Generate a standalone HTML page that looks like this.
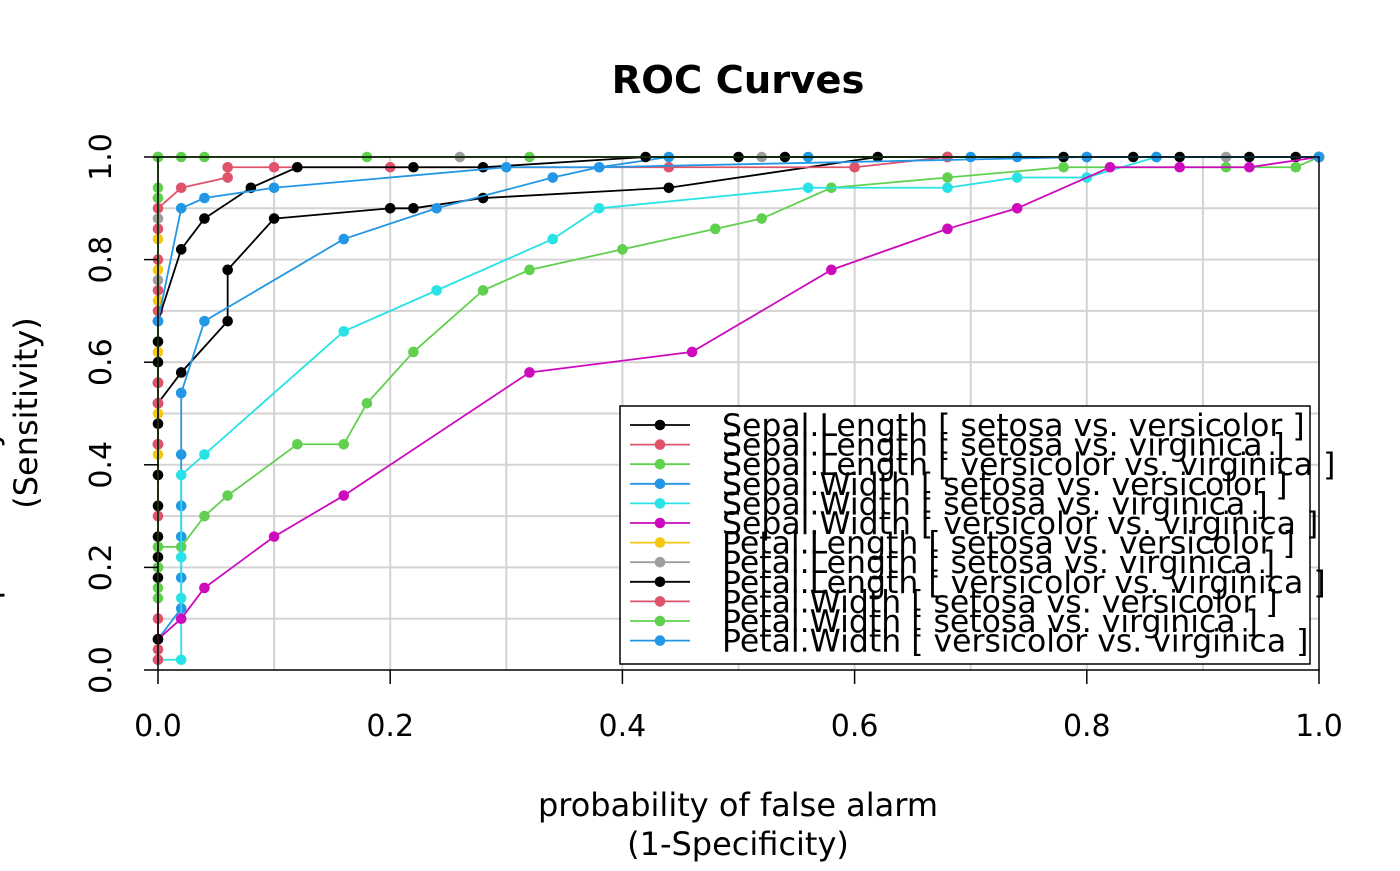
<!DOCTYPE html>
<html><head><meta charset="utf-8"><style>
body{margin:0;background:#fff}
svg text{font-family:"DejaVu Sans","Liberation Sans",sans-serif}
</style></head><body>
<svg id="chart" width="1400" height="866" viewBox="0 0 1400 866" xmlns="http://www.w3.org/2000/svg">
<rect width="1400" height="866" fill="#fff"/>
<text x="738" y="93" font-size="38.5" font-weight="bold" text-anchor="middle">ROC Curves</text>
<g id="grid"></g><g id="series"></g><g id="axes"></g><g id="legend"></g>
<text x="738" y="816" font-size="32" text-anchor="middle">probability of false alarm</text>
<text x="738" y="855" font-size="32" text-anchor="middle">(1-Specificity)</text>
<text transform="translate(37,413) rotate(-90)" font-size="32" text-anchor="middle">(Sensitivity)</text>
<text transform="translate(-2,413) rotate(-90)" font-size="32" text-anchor="middle">probability of detection</text>
</svg>
<script>
const xTicks=[0,0.2,0.4,0.6,0.8,1.0];
const yTicks=[0,0.2,0.4,0.6,0.8,1.0];
const seriesNames=["Sepal.Length [ setosa vs. versicolor ]","Sepal.Length [ setosa vs. virginica ]","Sepal.Length [ versicolor vs. virginica ]","Sepal.Width [ setosa vs. versicolor ]","Sepal.Width [ setosa vs. virginica ]","Sepal.Width [ versicolor vs. virginica ]","Petal.Length [ setosa vs. versicolor ]","Petal.Length [ setosa vs. virginica ]","Petal.Length [ versicolor vs. virginica ]","Petal.Width [ setosa vs. versicolor ]","Petal.Width [ setosa vs. virginica ]","Petal.Width [ versicolor vs. virginica ]"];
const seriesColors=["#000000","#DF536B","#61D04F","#2297E6","#28E2E5","#CD0BBC","#F5C710","#9E9E9E","#000000","#DF536B","#61D04F","#2297E6"];
const s1x=[0,0,0.02,0.06,0.06,0.10,0.20,0.22,0.28,0.44,0.62,0.68,0.78,0.84,0.88,0.94,0.98,1];
const s1y=[0.44,0.52,0.58,0.68,0.78,0.88,0.90,0.90,0.92,0.94,1,1,1,1,1,1,1,1];
const s2x=[0,0,0,0,0,0.02,0.06,0.06,0.10,0.20,0.44,0.60,0.68,1];
const s2y=[0.70,0.74,0.80,0.86,0.90,0.94,0.96,0.98,0.98,0.98,0.98,0.98,1,1];
const s3x=[0,0.02,0.04,0.06,0.12,0.16,0.18,0.22,0.28,0.32,0.40,0.48,0.52,0.58,0.68,0.78,0.92,0.98,1];
const s3y=[0.24,0.24,0.30,0.34,0.44,0.44,0.52,0.62,0.74,0.78,0.82,0.86,0.88,0.94,0.96,0.98,0.98,0.98,1];
const s4x=[0,0.02,0.02,0.02,0.02,0.02,0.02,0.02,0.04,0.16,0.24,0.34,0.38,0.44,0.56,0.70,0.74,0.80,0.86,1];
const s4y=[0.06,0.12,0.18,0.26,0.32,0.42,0.54,0.54,0.68,0.84,0.90,0.96,0.98,1,1,1,1,1,1,1];
const s5x=[0,0.02,0.02,0.02,0.02,0.04,0.16,0.24,0.34,0.38,0.56,0.68,0.74,0.80,0.86,1];
const s5y=[0.02,0.02,0.14,0.22,0.38,0.42,0.66,0.74,0.84,0.90,0.94,0.94,0.96,0.96,1,1];
const s6x=[0,0.02,0.04,0.10,0.16,0.32,0.46,0.58,0.68,0.74,0.82,0.88,0.94,1];
const s6y=[0.06,0.10,0.16,0.26,0.34,0.58,0.62,0.78,0.86,0.90,0.98,0.98,0.98,1];
const s7x=[0,0,0,0,0,0,0,0,1];
const s7y=[0.42,0.50,0.62,0.72,0.78,0.84,0.92,1,1];
const s8x=[0,0,0,0.26,0.52,0.92,1];
const s8y=[0.76,0.88,1,1,1,1,1];
const s9x=[0,0,0,0,0,0,0,0,0,0,0,0.02,0.04,0.08,0.12,0.22,0.28,0.42,0.50,0.54,1];
const s9y=[0.06,0.18,0.22,0.26,0.32,0.38,0.48,0.56,0.60,0.64,0.68,0.82,0.88,0.94,0.98,0.98,0.98,1,1,1,1];
const s10x=[0,0,0,0,0,0,0,0];
const s10y=[0.02,0.04,0.10,0.20,0.30,0.44,0.52,0.56];
const s11x=[0,0,0,0,0,0,0.02,0.04,0.18,0.32,1];
const s11y=[0.14,0.16,0.20,0.92,0.94,1,1,1,1,1,1];
const s12x=[0,0.02,0.04,0.10,0.30,0.38,0.80,0.86,1];
const s12y=[0.68,0.90,0.92,0.94,0.98,0.98,1,1,1];
const allX=[s1x,s2x,s3x,s4x,s5x,s6x,s7x,s8x,s9x,s10x,s11x,s12x];
const allY=[s1y,s2y,s3y,s4y,s5y,s6y,s7y,s8y,s9y,s10y,s11y,s12y];
const X0=158,X1=1319,Y0=670,Y1=157;
const sx=v=>X0+(X1-X0)*v, sy=v=>Y0-(Y0-Y1)*v;
const NS="http://www.w3.org/2000/svg";
function mk(t,a,p){const e=document.createElementNS(NS,t);for(const k in a)e.setAttribute(k,a[k]);p.appendChild(e);return e;}
const grid=document.getElementById('grid');
for(let i=1;i<10;i++){
 const gl=mk('line',{x1:sx(i/10),x2:sx(i/10),y1:Y1,y2:Y0,stroke:'#d3d3d3','stroke-width':2},grid);
 
 
 const gh=mk('line',{x1:X0,x2:X1,y1:sy(i/10),y2:sy(i/10),stroke:'#d3d3d3','stroke-width':2},grid);
 
 
}
const ser=document.getElementById('series');
for(let s=0;s<12;s++){
 const g=mk('g',{},ser);
 
 
 const pts=allX[s].map((x,i)=>sx(x)+','+sy(allY[s][i])).join(' ');
 mk('polyline',{points:pts,fill:'none',stroke:seriesColors[s],'stroke-width':1.8},g);
 allX[s].forEach((x,i)=>{
  const c=mk('circle',{cx:sx(x),cy:sy(allY[s][i]),r:5.3,fill:seriesColors[s]},g);
  
  
 });
}
const ax=document.getElementById('axes');
mk('rect',{x:X0,y:Y1,width:X1-X0,height:Y0-Y1,fill:'none',stroke:'#000','stroke-width':1.5},ax);
xTicks.forEach(v=>{
 mk('line',{x1:sx(v),x2:sx(v),y1:Y0,y2:Y0+14,stroke:'#000','stroke-width':1.5},ax);
 const t=mk('text',{x:sx(v),y:736,'font-size':30,'text-anchor':'middle'},ax);t.textContent=v.toFixed(1);
 
 
});
yTicks.forEach(v=>{
 mk('line',{x1:X0,x2:X0-14,y1:sy(v),y2:sy(v),stroke:'#000','stroke-width':1.5},ax);
 const t=mk('text',{transform:`translate(111,${sy(v)}) rotate(-90)`,'font-size':30,'text-anchor':'middle'},ax);t.textContent=v.toFixed(1);
 
 
});
const lg=document.getElementById('legend');


mk('rect',{x:620,y:406,width:690,height:258,fill:'#fff',stroke:'#000','stroke-width':1.5},lg);
seriesNames.forEach((n,i)=>{
 const y=425+i*19.6;
 const g=mk('g',{},lg);
 
 
 mk('line',{x1:630,x2:690,y1:y,y2:y,stroke:seriesColors[i],'stroke-width':1.8},g);
 mk('circle',{cx:660,cy:y,r:5.3,fill:seriesColors[i]},g);
 const t=mk('text',{x:722,y:y+11,'font-size':31.5},g);t.textContent=n;
});
</script>
</body></html>
